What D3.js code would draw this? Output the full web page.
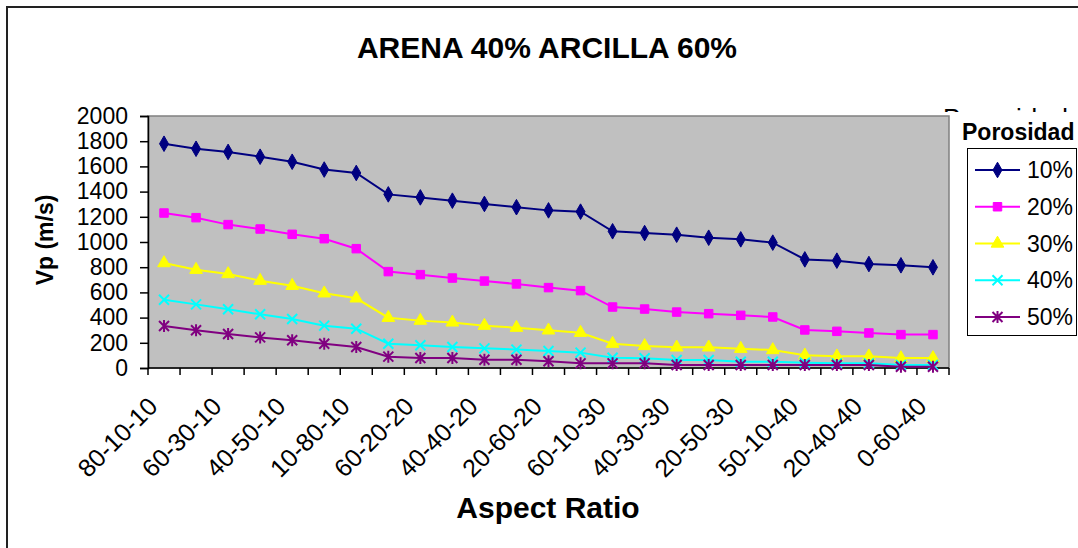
<!DOCTYPE html>
<html>
<head>
<meta charset="utf-8">
<script src="https://cdn.jsdelivr.net/npm/d3@7"></script>
<style>
  html, body { margin: 0; padding: 0; background: #fff; }
  svg { display: block; font-family: "Liberation Sans", Arial, sans-serif; }
</style>
</head>
<body>
<svg id="chart" width="1078" height="548"></svg>
<script>
const categories = ["80-10-10","70-20-10","60-30-10","50-40-10","40-50-10","20-70-10","10-80-10",
  "70-10-20","60-20-20","50-30-20","40-40-20","30-50-20","20-60-20","10-70-20",
  "60-10-30","50-20-30","40-30-30","30-40-30","20-50-30","10-60-30",
  "50-10-40","30-30-40","20-40-40","10-50-40","0-60-40"];
const seriesNames = ["10%","20%","30%","40%","50%"];
const p10 = [1780,1740,1715,1677,1637,1575,1548,1378,1354,1328,1302,1276,1251,1241,1085,1071,1058,1034,1021,995,862,852,825,815,799];
const p20 = [1230,1193,1138,1103,1061,1026,947,765,741,714,690,667,638,614,484,468,444,431,418,405,302,291,278,265,265];
const p30 = [833,780,746,693,653,593,553,399,376,362,336,320,299,280,193,175,164,164,153,143,101,93,93,79,79];
const p40 = [542,505,466,426,389,336,312,193,180,167,156,146,135,122,82,77,63,63,50,50,42,37,37,24,24];
const p50 = [333,299,270,243,220,193,167,90,79,79,66,66,53,37,37,37,24,24,24,24,24,24,24,10,10];
const yTicks = [0,200,400,600,800,1000,1200,1400,1600,1800,2000];
const labelCategories = categories.filter((d, i) => i % 2 === 0);

const seriesData = [p10, p20, p30, p40, p50];
const colors = ["#000080", "#FF00FF", "#FFFF00", "#00FFFF", "#800080"];
const markers = ["diamond", "square", "triangle", "x", "star"];

const svg = d3.select("#chart");
svg.append("rect").attr("width", 1078).attr("height", 548).attr("fill", "#fff");
// chart border
svg.append("rect").attr("x", 7).attr("y", 7).attr("width", 1200).attr("height", 700)
  .attr("fill", "none").attr("stroke", "#222").attr("stroke-width", 2);

const L = 148, R = 949, T = 116, B = 368;
const x = d3.scaleBand().domain(categories).range([L, R]).paddingInner(0).paddingOuter(0);
const y = d3.scaleLinear().domain([0, 2000]).range([B, T]);
const cx = d => x(d) + x.bandwidth() / 2;

// title
svg.append("text").attr("x", 547).attr("y", 58).attr("text-anchor", "middle")
  .attr("font-size", 30).attr("font-weight", "bold").text("ARENA 40% ARCILLA 60%");

// hidden legend title remnant (only top strokes visible)
const clip = svg.append("clipPath").attr("id", "remclip");
clip.append("rect").attr("x", 930).attr("y", 104).attr("width", 148).attr("height", 8);
svg.append("text").attr("x", 943).attr("y", 127).attr("font-size", 26)
  .attr("letter-spacing", 1).attr("clip-path", "url(#remclip)").text("Porosidad");

// plot area
svg.append("rect").attr("x", L).attr("y", T).attr("width", R - L).attr("height", B - T)
  .attr("fill", "#C0C0C0").attr("stroke", "#808080").attr("stroke-width", 1.5);

// y axis
const yAxis = d3.axisLeft(y).tickValues(yTicks).tickSize(8).tickPadding(12).tickFormat(d3.format("d"));
const gy = svg.append("g").attr("transform", `translate(${L},0)`).call(yAxis);
gy.select(".domain").attr("stroke", "#000").attr("stroke-width", 1.5);
gy.selectAll(".tick line").attr("stroke", "#000").attr("stroke-width", 1.5);
gy.selectAll(".tick text").attr("font-size", 23).attr("font-family", "Liberation Sans, Arial, sans-serif").attr("fill", "#000");

// x axis line + boundary ticks
const gx = svg.append("g");
gx.append("line").attr("x1", L).attr("x2", R).attr("y1", B).attr("y2", B)
  .attr("stroke", "#000").attr("stroke-width", 1.5);
const bounds = categories.map(c => x(c)).concat([x.range()[1]]);
gx.selectAll("line.tk").data(bounds).join("line").attr("class", "tk")
  .attr("x1", d => d).attr("x2", d => d).attr("y1", B).attr("y2", B + 7)
  .attr("stroke", "#000").attr("stroke-width", 1.5);
gx.selectAll("text.lbl").data(labelCategories).join("text").attr("class", "lbl")
  .attr("transform", d => `translate(${cx(d) - 5},${B + 40}) rotate(-45)`)
  .attr("text-anchor", "end").attr("font-size", 25).text(d => d);

// axis titles
svg.append("text").attr("transform", "translate(53,240) rotate(-90)").attr("text-anchor", "middle")
  .attr("font-size", 23).attr("font-weight", "bold").text("Vp (m/s)");
svg.append("text").attr("x", 548).attr("y", 518).attr("text-anchor", "middle")
  .attr("font-size", 30).attr("font-weight", "bold").text("Aspect Ratio");

// marker drawing
function drawMarker(g, type, color) {
  if (type === "diamond") {
    g.append("path").attr("d", d3.symbol(d3.symbolDiamond, 70)()).attr("fill", color).attr("stroke", color);
  } else if (type === "square") {
    g.append("path").attr("d", d3.symbol(d3.symbolSquare, 72)()).attr("fill", color).attr("stroke", color);
  } else if (type === "triangle") {
    g.append("path").attr("d", d3.symbol(d3.symbolTriangle, 70)()).attr("fill", color).attr("stroke", color);
  } else if (type === "x") {
    g.append("path").attr("d", "M-5,-5L5,5M-5,5L5,-5").attr("stroke", color).attr("stroke-width", 2).attr("fill", "none");
  } else if (type === "star") {
    g.append("path").attr("d", "M-5,-5L5,5M-5,5L5,-5M0,-6L0,6").attr("stroke", color).attr("stroke-width", 2).attr("fill", "none");
  }
}

const line = d3.line().x((d, i) => cx(categories[i])).y(d => y(d));
seriesData.forEach((vals, s) => {
  svg.append("path").datum(vals).attr("d", line).attr("fill", "none")
    .attr("stroke", colors[s]).attr("stroke-width", 2);
  const g = svg.append("g");
  vals.forEach((v, i) => {
    const m = g.append("g").attr("transform", `translate(${cx(categories[i])},${y(v)})`);
    drawMarker(m, markers[s], colors[s]);
  });
});

// legend
svg.append("text").attr("x", 962).attr("y", 140).attr("font-size", 23).attr("font-weight", "bold").text("Porosidad");
svg.append("rect").attr("x", 967.5).attr("y", 148.5).attr("width", 109).attr("height", 187)
  .attr("fill", "#fff").attr("stroke", "#000").attr("stroke-width", 1);
seriesNames.forEach((name, s) => {
  const ly = 170 + s * 36.75;
  svg.append("line").attr("x1", 975).attr("x2", 1020).attr("y1", ly).attr("y2", ly)
    .attr("stroke", colors[s]).attr("stroke-width", 2);
  const m = svg.append("g").attr("transform", `translate(997.5,${ly})`);
  drawMarker(m, markers[s], colors[s]);
  svg.append("text").attr("x", 1027).attr("y", ly + 8).attr("font-size", 23).text(name);
});
</script>
</body>
</html>
